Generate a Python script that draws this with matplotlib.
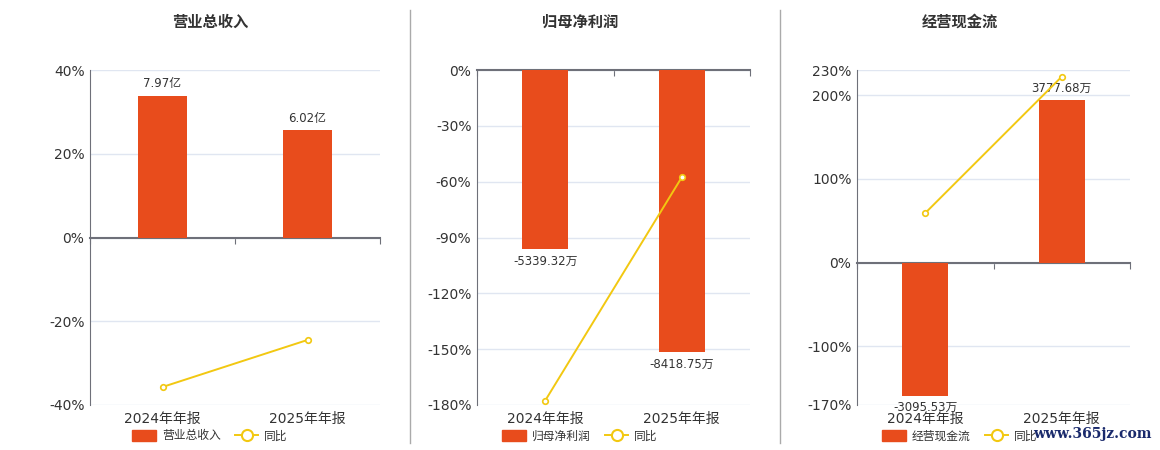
import matplotlib
matplotlib.use('Agg')
import matplotlib.pyplot as plt
from matplotlib.patches import Patch
from matplotlib.lines import Line2D

plt.rcParams['font.family'] = ['DejaVu Sans', 'Noto Sans CJK SC']

# data
periods = ['2024年年报', '2025年年报']
titles = ['营业总收入', '归母净利润', '经营现金流']

revenue = [7.97, 6.02]            # 亿
net_profit = [-5339.32, -8418.75]  # 万
cash_flow = [-3095.53, 3777.68]    # 万

revenue_labels = ['7.97亿', '6.02亿']
net_profit_labels = ['-5339.32万', '-8418.75万']
cash_flow_labels = ['-3095.53万', '3777.68万']

revenue_yoy = [-35.7, -24.47]
net_profit_yoy = [-177.6, -57.67]
cash_flow_yoy = [59.2, 222.03]

revenue_ticks = [-40, -20, 0, 20, 40]
net_profit_ticks = [-180, -150, -120, -90, -60, -30, 0]
cash_flow_ticks = [-170, -100, 0, 100, 200, 230]

bar_color = '#e84c1c'
line_color = '#f2c811'
grid_color = '#e0e6f1'
axis_color = '#6e7079'
text_color = '#333333'

panels = [
    (revenue, revenue_labels, revenue_yoy, revenue_ticks, (-9.41, 9.41)),
    (net_profit, net_profit_labels, net_profit_yoy, net_profit_ticks, (-10000, 0)),
    (cash_flow, cash_flow_labels, cash_flow_yoy, cash_flow_ticks, (-3314, 4484)),
]

fig = plt.figure(figsize=(11.6, 4.5), dpi=100)

lefts = [90, 477, 857]
widths = [290, 273, 273]
centers = [210, 580, 960]

x = range(len(periods))

for i, (vals, labels, yoy, ticks, blim) in enumerate(panels):
    rect = [lefts[i] / 1160, 45 / 450, widths[i] / 1160, 335 / 450]
    ax = fig.add_axes(rect)
    ax.set_ylim(ticks[0], ticks[-1])
    ax.set_xlim(-0.5, 1.5)
    ax.set_yticks(ticks)
    ax.set_yticklabels([f'{t}%' for t in ticks])
    ax.yaxis.grid(True, color=grid_color, lw=1)
    ax.set_axisbelow(True)
    for s in ['top', 'right']:
        ax.spines[s].set_visible(False)
    ax.spines['left'].set_color(axis_color)
    ax.spines['bottom'].set_position(('data', 0))
    ax.spines['bottom'].set_color(axis_color)
    ax.spines['bottom'].set_linewidth(1.5)
    ax.set_xticks([-0.5, 0.5, 1.5])
    ax.set_xticklabels([])
    ax.tick_params(axis='x', length=4, color=axis_color)
    ax.tick_params(axis='y', length=0, labelsize=10, labelcolor=text_color, pad=4)

    sec = ax.secondary_xaxis('bottom')
    sec.set_xticks(list(x))
    sec.set_xticklabels(periods)
    sec.spines['bottom'].set_visible(False)
    sec.tick_params(length=0, labelsize=10, labelcolor=text_color, pad=5)

    # bars on their own scale
    axb = ax.twinx()
    axb.set_ylim(*blim)
    axb.set_xlim(-0.5, 1.5)
    axb.axis('off')
    axb.bar(x, vals, width=0.34, color=bar_color)
    for xi, v, lab in zip(x, vals, labels):
        off = 4 if v > 0 else -4
        axb.annotate(lab, (xi, v), xytext=(0, off), textcoords='offset points',
                     ha='center', va='bottom' if v > 0 else 'top',
                     fontsize=8.5, color=text_color)

    # yoy line on top
    axl = ax.twinx()
    axl.set_ylim(ticks[0], ticks[-1])
    axl.set_xlim(-0.5, 1.5)
    axl.axis('off')
    axl.plot(x, yoy, color=line_color, lw=1.4, marker='o', ms=4,
             mfc='white', mec=line_color, mew=1.2)

    fig.text(centers[i] / 1160, 1 - 22 / 450, titles[i], ha='center', va='center',
             fontsize=11, fontweight='bold', color=text_color)

    handles = [Patch(facecolor=bar_color, edgecolor=bar_color),
               Line2D([], [], color=line_color, lw=1.4, marker='o', ms=8,
                      mfc='white', mec=line_color, mew=1.5)]
    ax.legend(handles, [titles[i], '同比'], loc='center',
              bbox_to_anchor=(centers[i] / 1160, 1 - 436 / 450),
              bbox_transform=fig.transFigure, ncol=2, frameon=False,
              fontsize=8.5, handlelength=2.0, handleheight=1.0,
              columnspacing=1.2, handletextpad=0.5, labelcolor=text_color)

# separators
for xs in [410, 780]:
    fig.add_artist(Line2D([xs / 1160, xs / 1160], [1 - 10 / 450, 1 - 443 / 450],
                          transform=fig.transFigure, color='#aaaaaa', lw=1))

fig.text(1152 / 1160, 1 - 434 / 450, 'www.365jz.com', ha='right', va='center',
         fontsize=10, fontweight='bold', color='#1a2a6c', family='DejaVu Serif')

fig.savefig('out.png', dpi=100)
